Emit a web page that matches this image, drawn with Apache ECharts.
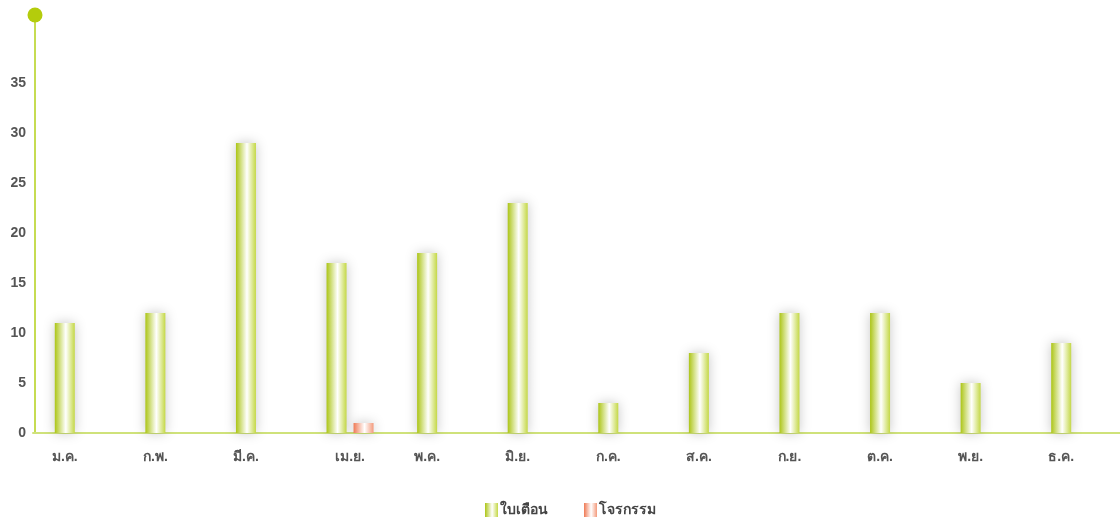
<!DOCTYPE html>
<html>
<head>
<meta charset="utf-8">
<script src="https://cdn.jsdelivr.net/npm/echarts@6/dist/echarts.min.js"></script>
<style>
html,body{margin:0;padding:0;background:#fff;}
#c{width:1120px;height:526px;}
</style>
</head>
<body>
<div id="c"></div>
<script>
var months = ['ม.ค.','ก.พ.','มี.ค.','เม.ย.','พ.ค.','มิ.ย.','ก.ค.','ส.ค.','ก.ย.','ต.ค.','พ.ย.','ธ.ค.'];
var seriesNames = ['ใบเตือน','โจรกรรม'];
var warnings = [11,12,29,17,18,23,3,8,12,12,5,9];
var thefts = ['-','-','-',1,'-','-','-','-','-','-','-','-'];
var yTicks = [0,5,10,15,20,25,30,35];

var FONT = "'Liberation Sans','Noto Sans',Arial,sans-serif";

function grad(edgeL, mid, edgeR){
  return new echarts.graphic.LinearGradient(0,0,1,0,[
    {offset:0,color:edgeL},{offset:0.55,color:mid},{offset:1,color:edgeR}
  ]);
}

var chart = echarts.init(document.getElementById('c'), null, {renderer:'canvas'});
chart.setOption({
  backgroundColor:'#ffffff',
  animation:false,
  grid:{left:33, width:1088, top:15, bottom:93, containLabel:false},
  legend:{
    bottom:4, left:480,
    itemWidth:13, itemHeight:14, itemGap:36,
    icon:'rect',
    textStyle:{color:'#444', fontSize:14, fontWeight:'bold', fontFamily:FONT, padding:[0,0,0,-3]},
    data:seriesNames
  },
  xAxis:{
    type:'category',
    data:months,
    axisLine:{lineStyle:{color:'#cfe27a', width:2}},
    axisTick:{show:false},
    splitLine:{show:false},
    axisLabel:{
      margin:17,
      interval:0,
      formatter:function(v, i){
        return thefts[i] === '-' ? '{a|'+v+'}' : '{b|'+v+'}';
      },
      rich:{
        a:{color:'#555', fontSize:14, fontWeight:'bold', fontFamily:FONT, padding:[0,27,0,0]},
        b:{color:'#555', fontSize:14, fontWeight:'bold', fontFamily:FONT}
      }
    }
  },
  yAxis:[{
    type:'value',
    min:0, max:41.8, interval:5,
    offset:-2,
    axisLine:{show:true, lineStyle:{color:'#c6dc52', width:2}},
    axisTick:{show:false},
    splitLine:{show:false},
    axisLabel:{
      margin:9,
      color:'#555', fontSize:14, fontWeight:'bold', fontFamily:FONT,
      formatter:function(v){ return yTicks.indexOf(v) >= 0 ? String(v) : ''; }
    }
  },{
    type:'value',
    position:'left',
    min:0, max:41.8, interval:5,
    offset:-2,
    axisLine:{show:true, lineStyle:{color:'#b4cc0c', width:2, type:[0,10000]},
      symbol:['none','circle'], symbolSize:[17,15], symbolOffset:[0,0]},
    axisTick:{show:false},
    splitLine:{show:false},
    axisLabel:{show:false}
  }],
  series:[
    {
      name:seriesNames[0], type:'bar', data:warnings,
      barWidth:20, barGap:'35%',
      itemStyle:{
        color:grad('#acc516','#ffffff','#c4d846'),
        shadowBlur:12, shadowColor:'rgba(0,0,0,0.22)', shadowOffsetX:0, shadowOffsetY:0
      }
    },
    {
      name:seriesNames[1], type:'bar', data:thefts,
      barWidth:20,
      itemStyle:{
        color:grad('#ef7a55','#ffffff','#f39a7c'),
        shadowBlur:12, shadowColor:'rgba(0,0,0,0.22)', shadowOffsetX:0, shadowOffsetY:0
      }
    }
  ]
});
</script>
</body>
</html>
